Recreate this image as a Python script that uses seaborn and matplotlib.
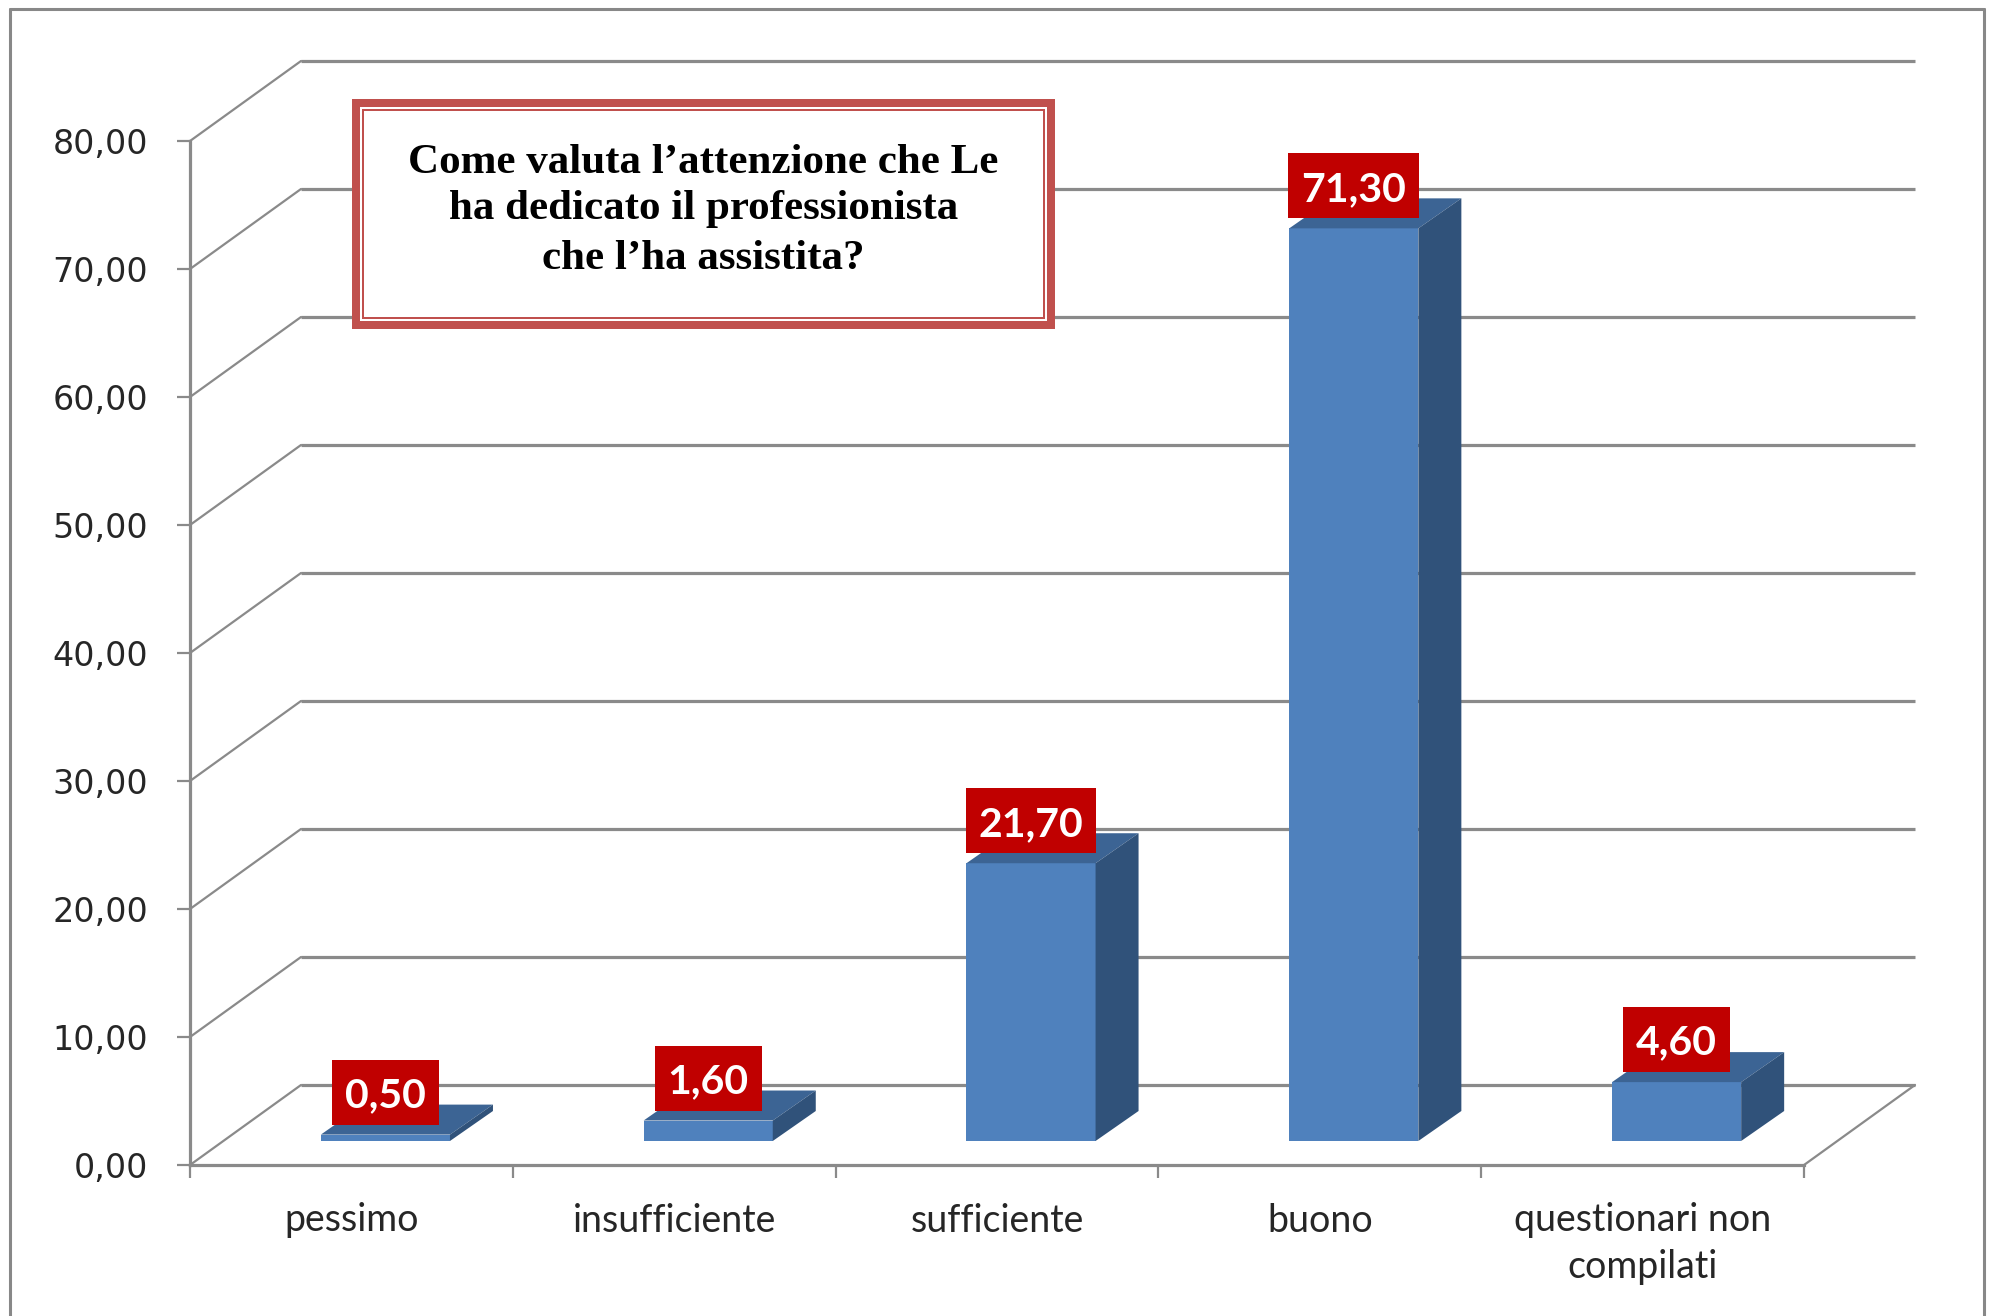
import numpy as np
import pandas as pd
import matplotlib
matplotlib.use("Agg")
import matplotlib.pyplot as plt
import seaborn as sns
from matplotlib import transforms
from matplotlib.patches import Polygon, Rectangle
from matplotlib.lines import Line2D

# ---- data -------------------------------------------------------------
categories = ["pessimo", "insufficiente", "sufficiente", "buono",
              "questionari non\ncompilati"]
percentages = [0.50, 1.60, 21.70, 71.30, 4.60]
value_labels = ["0,50", "1,60", "21,70", "71,30", "4,60"]
y_ticks = [0, 10, 20, 30, 40, 50, 60, 70, 80]
y_tick_labels = ["0,00", "10,00", "20,00", "30,00", "40,00",
                 "50,00", "60,00", "70,00", "80,00"]
title_lines = ["Come valuta l\u2019attenzione che Le",
               "ha dedicato il professionista",
               "che l\u2019ha assistita?"]

# ---- styling ----------------------------------------------------------
FRONT = "#4F81BD"
TOP = "#3C6494"
SIDE = "#30527A"
GRID = "#8A8A8A"
LABEL_RED = "#C00000"
BOX_RED = "#C0504D"
TEXT = "#262626"

W, H, DPI = 1992, 1316, 100
sns.set_theme(style="white")
plt.rcParams["font.family"] = ["DejaVu Sans"]

fig = plt.figure(figsize=(W / DPI, H / DPI), dpi=DPI)
fig.patch.set_facecolor("white")

# front plane of the 3-D box, in pixels
X0, X1 = 190, 1804
Y0, Y80 = 1165, 141
ax = fig.add_axes([X0 / W, 1 - Y0 / H, (X1 - X0) / W, (Y0 - Y80) / H])
ax.set_facecolor("none")


def px(dx, dy):
    return transforms.ScaledTranslation(dx / DPI, dy / DPI, fig.dpi_scale_trans)


WALL_DX, WALL_DY = 111, 80      # depth of the floor / side wall
BAR_DX, BAR_DY = 34, 24         # where the bar front faces sit
DEPTH_DX, DEPTH_DY = 43, 30     # depth of each bar

df = pd.DataFrame({"categoria": categories, "percentuale": percentages})
sns.barplot(data=df, x="categoria", y="percentuale", color=FRONT,
            saturation=1, width=0.4, linewidth=0, ax=ax, zorder=4)
ax.set_xlim(-0.5, 4.5)
ax.set_ylim(0, 80)
ax.set_xlabel("")
ax.set_ylabel("")

to_data = ax.transData.inverted()
renderer = fig.canvas.get_renderer()

# back wall gridlines
wall_t = ax.transData + px(WALL_DX, WALL_DY)
for v in y_ticks:
    ax.plot([-0.5, 4.5], [v, v], transform=wall_t, color=GRID, lw=2.3,
            clip_on=False, zorder=1, solid_capstyle="butt")
    # side wall diagonal
    p0 = ax.transData.transform((-0.5, v))
    p1 = p0 + np.array([WALL_DX, WALL_DY])
    d = to_data.transform(np.vstack([p0, p1]))
    ax.plot(d[:, 0], d[:, 1], color=GRID, lw=1.6, clip_on=False, zorder=1)

# floor right edge
p0 = ax.transData.transform((4.5, 0))
p1 = p0 + np.array([WALL_DX, WALL_DY])
d = to_data.transform(np.vstack([p0, p1]))
ax.plot(d[:, 0], d[:, 1], color=GRID, lw=1.6, clip_on=False, zorder=1)

# 3-D bars: shift the front faces, then add top and side faces
bar_t = ax.transData + px(BAR_DX, BAR_DY)
depth = np.array([DEPTH_DX, DEPTH_DY])
BOX_H, BOX_PAD, BOX_GAP = 65, 13, 10
for patch, lab in zip(ax.patches, value_labels):
    patch.set_transform(bar_t)
    patch.set_clip_on(False)
    x0 = patch.get_x()
    x1 = x0 + patch.get_width()
    h = patch.get_height()
    A = bar_t.transform((x0, h))
    B = bar_t.transform((x1, h))
    C = bar_t.transform((x1, 0))
    top = to_data.transform(np.vstack([A, B, B + depth, A + depth]))
    side = to_data.transform(np.vstack([B, C, C + depth, B + depth]))
    ax.add_patch(Polygon(top, closed=True, fc=TOP, ec="none", zorder=4,
                         clip_on=False))
    ax.add_patch(Polygon(side, closed=True, fc=SIDE, ec="none", zorder=4,
                         clip_on=False))
    # value label in a red box above the front face
    c = bar_t.transform(((x0 + x1) / 2, h)) + np.array([0, BOX_GAP + BOX_H / 2])
    cx, cy = to_data.transform(c)
    t = ax.text(cx, cy, lab, ha="center", va="center_baseline", color="white",
                fontsize=29.5, fontweight="bold", family=["Lato", "DejaVu Sans"],
                zorder=6, clip_on=False)
    tw = t.get_window_extent(renderer=renderer).width
    bw = tw + 2 * BOX_PAD
    corners = to_data.transform(np.array([[c[0] - bw / 2, c[1] - BOX_H / 2],
                                          [c[0] + bw / 2, c[1] + BOX_H / 2]]))
    ax.add_patch(Rectangle(corners[0], corners[1, 0] - corners[0, 0],
                           corners[1, 1] - corners[0, 1], fc=LABEL_RED,
                           ec="none", zorder=5, clip_on=False))

# axes lines and ticks
for s in ["top", "right"]:
    ax.spines[s].set_visible(False)
for s in ["left", "bottom"]:
    ax.spines[s].set_color(GRID)
    ax.spines[s].set_linewidth(2.3)
    ax.spines[s].set_zorder(2)

ax.set_yticks(y_ticks, y_tick_labels)
ax.tick_params(axis="y", which="major", left=True, length=9.4, width=1.6,
               color=GRID, pad=21, labelsize=24, labelcolor=TEXT)

ax.set_xticks(range(len(categories)), categories)
ax.set_xticks(np.arange(-0.5, len(categories), 1.0), minor=True)
ax.tick_params(axis="x", which="major", bottom=False, length=0, pad=27,
               labelsize=27, labelcolor=TEXT)
ax.tick_params(axis="x", which="minor", bottom=True, length=9.4, width=1.6,
               color=GRID)
for t in ax.get_xticklabels():
    t.set_family(["Lato", "DejaVu Sans"])
    t.set_linespacing(1.35)
ax.grid(False)

# question box
fig.add_artist(Rectangle((356 / W, 1 - 325 / H), (1051 - 356) / W,
                         (325 - 103) / H, transform=fig.transFigure,
                         fc="white", ec=BOX_RED, lw=8 * 0.72, zorder=10))
fig.add_artist(Rectangle((363 / W, 1 - 318 / H), (1044 - 363) / W,
                         (318 - 110) / H, transform=fig.transFigure,
                         fc="none", ec=BOX_RED, lw=2 * 0.72, zorder=11))
for line, base in zip(title_lines, [173, 219, 269]):
    fig.text(703.5 / W, 1 - base / H, line, ha="center", va="baseline",
             fontsize=31, fontweight="bold", family=["Liberation Serif"],
             color="black", zorder=12)

# outer frame
frame_kw = dict(color="#888888", lw=2.2, transform=fig.transFigure, zorder=20)
fig.add_artist(Line2D([9.5 / W, 9.5 / W], [0, 1 - 8.5 / H], **frame_kw))
fig.add_artist(Line2D([9.5 / W, 1984 / W], [1 - 8.5 / H, 1 - 8.5 / H], **frame_kw))
fig.add_artist(Line2D([1984 / W, 1984 / W], [0, 1 - 8.5 / H], **frame_kw))

fig.savefig("out.png", dpi=DPI, facecolor="white")
